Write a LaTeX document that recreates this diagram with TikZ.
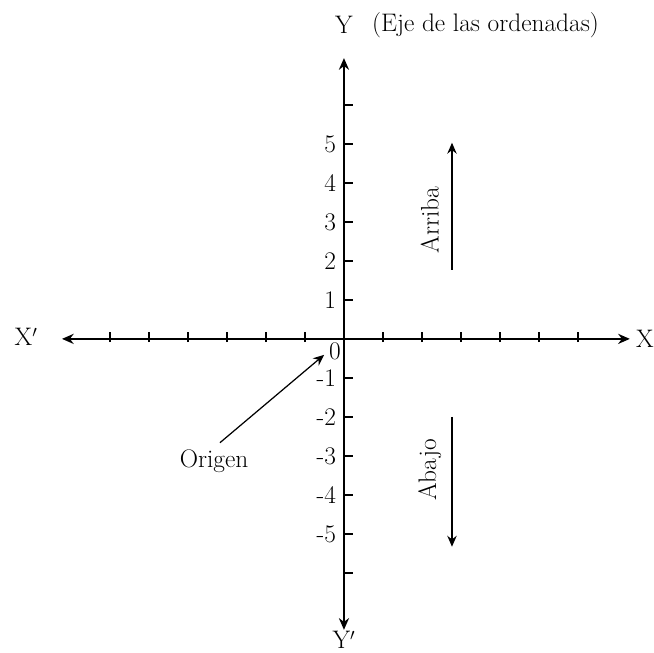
\documentclass[tikz,border=0pt]{standalone}
\usepackage{amsmath}
\usetikzlibrary{calc, positioning}
\usetikzlibrary{arrows.meta}

\begin{document}
\begin{tikzpicture}[every node/.style={font=\fontsize{18.5}{22}\selectfont}]
\def\xmin{-7.23}
\def\xmax{7.33}
\def\ymin{-7.46}
\def\ymax{7.2}

\useasboundingbox (-8.82,-8.03) rectangle (7.95,8.69);

\coordinate (O) at (0,0);
\coordinate (Xl) at (\xmin,0);
\coordinate (Xr) at (\xmax,0);
\coordinate (Yb) at (0,\ymin);
\coordinate (Yt) at (0,\ymax);

\draw[{Stealth[length=3mm,width=2.6mm]}-{Stealth[length=3mm,width=2.6mm]}, line width=1.3pt] (Xl) -- (Xr);
\draw[{Stealth[length=3mm,width=2.6mm]}-{Stealth[length=3mm,width=2.6mm]}, line width=1.3pt] (Yb) -- (Yt);

\foreach \k in {-6,...,-1,1,2,...,6} {
  \draw[line width=1.1pt] (\k,-0.08) -- (\k,0.18);
  \draw[line width=1.1pt] (0,\k) -- (0.22,\k);
}
\foreach \k in {-5,...,-1,1,2,...,5} {
  \node[anchor=east, inner sep=0pt] (ylab\k) at (-0.2,\k) {\k};
}

\node (cero) at (-0.23,-0.33) {0};
\node[inner sep=1pt] (X) at (7.72,0) {X};
\node (Xp) at (-8.15,0.05) {X$'$};
\node (Y) at (0,8.05) {Y};
\node[anchor=west] (eje) at (0.6,8.05) {(Eje de las ordenadas)};
\node[inner sep=1pt] (Yp) at (0,-7.72) {Y$'$};

\coordinate (A1) at (2.77,1.77);
\coordinate (A2) at (2.77,5.03);
\coordinate (B1) at (2.77,-2.0);
\coordinate (B2) at (2.77,-5.33);
\draw[-{Stealth[length=2.8mm,width=2.4mm]}, line width=1pt] (A1) -- (A2);
\draw[-{Stealth[length=2.8mm,width=2.4mm]}, line width=1pt] (B1) -- (B2);
\node[rotate=90] (arriba) at (2.2,3.05) {Arriba};
\node[rotate=90] (abajo) at (2.2,-3.36) {Abajo};

\node (origen) at (-3.33,-3.13) {Origen};
\coordinate (P) at (-0.51,-0.41);
\coordinate (Q) at ($(origen.north)+(0.15,0.05)$);
\draw[-{Stealth[length=2.8mm,width=2.4mm]}, line width=0.9pt] (Q) -- (P);
\end{tikzpicture}
\end{document}
